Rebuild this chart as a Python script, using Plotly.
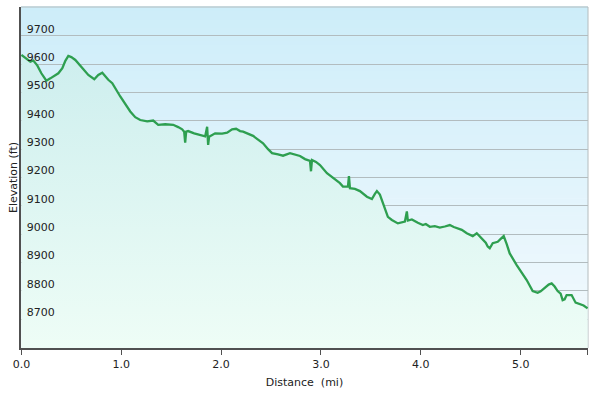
import plotly.graph_objects as go

# ---- data ----
distance_mi = [0.00, 0.05, 0.09, 0.12, 0.16, 0.20, 0.25, 0.29, 0.32, 0.37, 0.41, 0.44, 0.47, 0.50, 0.54,
               0.61, 0.67, 0.73, 0.77, 0.81, 0.84, 0.87, 0.91, 0.99, 1.09, 1.14, 1.19, 1.26, 1.32, 1.37,
               1.44, 1.52, 1.57, 1.61, 1.63, 1.64, 1.65, 1.67, 1.73, 1.79, 1.84, 1.86, 1.87, 1.88, 1.94,
               2.01, 2.06, 2.11, 2.15, 2.19, 2.22, 2.32, 2.37, 2.42, 2.47, 2.51, 2.57, 2.62, 2.69, 2.74,
               2.79, 2.84, 2.89, 2.90, 2.91, 2.95, 2.99, 3.06, 3.12, 3.19, 3.22, 3.27, 3.28, 3.29, 3.34,
               3.39, 3.46, 3.51, 3.54, 3.56, 3.59, 3.61, 3.64, 3.67, 3.71, 3.77, 3.84, 3.86, 3.87, 3.91,
               3.97, 4.02, 4.05, 4.09, 4.14, 4.19, 4.24, 4.29, 4.33, 4.36, 4.41, 4.46, 4.52, 4.56, 4.61,
               4.65, 4.67, 4.69, 4.72, 4.77, 4.80, 4.83, 4.86, 4.89, 4.96, 5.01, 5.06, 5.12, 5.17, 5.20,
               5.24, 5.28, 5.31, 5.34, 5.37, 5.40, 5.42, 5.44, 5.46, 5.51, 5.55, 5.59, 5.63, 5.67]
elevation_ft = [9633, 9620, 9609, 9613, 9595, 9568, 9542, 9550, 9556, 9568, 9586, 9612, 9629, 9625, 9615,
                9586, 9562, 9547, 9562, 9570, 9558, 9545, 9533, 9486, 9433, 9413, 9403, 9398, 9401, 9386,
                9388, 9386, 9378, 9370, 9362, 9323, 9362, 9364, 9356, 9350, 9345, 9379, 9315, 9344, 9356,
                9355, 9358, 9370, 9372, 9364, 9362, 9347, 9335, 9321, 9300, 9286, 9282, 9277, 9286, 9280,
                9276, 9265, 9259, 9222, 9262, 9255, 9244, 9215, 9200, 9180, 9168, 9168, 9205, 9162, 9160,
                9152, 9132, 9124, 9142, 9152, 9140, 9120, 9090, 9061, 9050, 9038, 9044, 9080, 9048, 9052,
                9040, 9032, 9036, 9026, 9028, 9023, 9027, 9032, 9025, 9021, 9015, 9003, 8993, 9003, 8985,
                8970, 8956, 8950, 8968, 8973, 8983, 8993, 8965, 8932, 8891, 8865, 8838, 8799, 8793, 8798,
                8809, 8822, 8826, 8815, 8799, 8790, 8767, 8770, 8785, 8785, 8758, 8754, 8748, 8738]
y_tick_vals = [8700, 8800, 8900, 9000, 9100, 9200, 9300, 9400, 9500, 9600, 9700]
x_tick_whole = [0, 1, 2, 3, 4, 5]

# ---- derived ----
x_max = distance_mi[-1]
x_tickvals = x_tick_whole + [x_max]
x_ticktext = [f"{v:.1f}" for v in x_tickvals]
y_lo, y_hi = 8598, 9802
eps = 0.004

FONT = "DejaVu Sans, Verdana, sans-serif"


def lerp_color(c1, c2, t):
    a = [int(c1[i:i + 2], 16) for i in (1, 3, 5)]
    b = [int(c2[i:i + 2], 16) for i in (1, 3, 5)]
    return "rgb(%d,%d,%d)" % tuple(round(a[k] + (b[k] - a[k]) * t) for k in range(3))


# background vertical gradient made of thin strips
shapes = []
n = 80
for i in range(n):
    t0 = i / n
    t1 = (i + 1) / n
    shapes.append(dict(type="rect", xref="paper", yref="paper", x0=0, x1=1, y0=t0, y1=t1 + 0.002,
                       line=dict(width=0), fillcolor=lerp_color("#f4fafe", "#cdedf9", (t0 + t1) / 2),
                       layer="below"))
# light top / right border
shapes.append(dict(type="line", xref="paper", yref="paper", x0=0, x1=1, y0=1, y1=1,
                   line=dict(color="#b4bcbe", width=1), layer="below"))
shapes.append(dict(type="line", xref="paper", yref="paper", x0=1, x1=1, y0=0, y1=1,
                   line=dict(color="#b4bcbe", width=1), layer="below"))

fig = go.Figure()
fig.add_trace(go.Scatter(
    x=distance_mi, y=elevation_ft, mode="lines",
    line=dict(color="#2e9f50", width=2.3),
    fill="tozeroy",
    fillgradient=dict(type="vertical", start=8600, stop=9650,
                      colorscale=[[0, "#eefdf6"], [1, "#cdeeee"]]),
    hoverinfo="skip", showlegend=False,
))

fig.update_layout(
    width=594, height=395,
    margin=dict(l=21, r=6, t=7, b=47),
    paper_bgcolor="white", plot_bgcolor="rgba(0,0,0,0)",
    font=dict(family=FONT, size=11, color="#222222"),
    shapes=shapes,
    xaxis=dict(
        range=[-eps, x_max + eps], tickvals=x_tickvals, ticktext=x_ticktext,
        automargin=False,
        showgrid=False, zeroline=False,
        showline=True, linecolor="#505050", linewidth=2,
        ticks="outside", ticklen=5, tickcolor="#505050", tickwidth=1,
        tickfont=dict(family=FONT, size=11, color="#222222"),
        title=dict(text="Distance\u00a0 (mi)", standoff=8, font=dict(family=FONT, size=11, color="#222222")),
    ),
    yaxis=dict(
        range=[y_lo, y_hi], tickvals=y_tick_vals,
        automargin=False,
        showgrid=True, gridcolor="#b2bcbf", gridwidth=1,
        zeroline=False, showline=True, linecolor="#505050", linewidth=2,
        ticks="", ticklabelposition="outside",
        ticklabelstandoff=-38, ticklabelshift=-7,
        tickfont=dict(family=FONT, size=11, color="#222222"),
        title=dict(text="Elevation (ft)", standoff=7, font=dict(family=FONT, size=11, color="#222222")),
    ),
)

fig.write_html("out.html", config={"displayModeBar": False},
               post_script="document.body.style.margin='0';")
